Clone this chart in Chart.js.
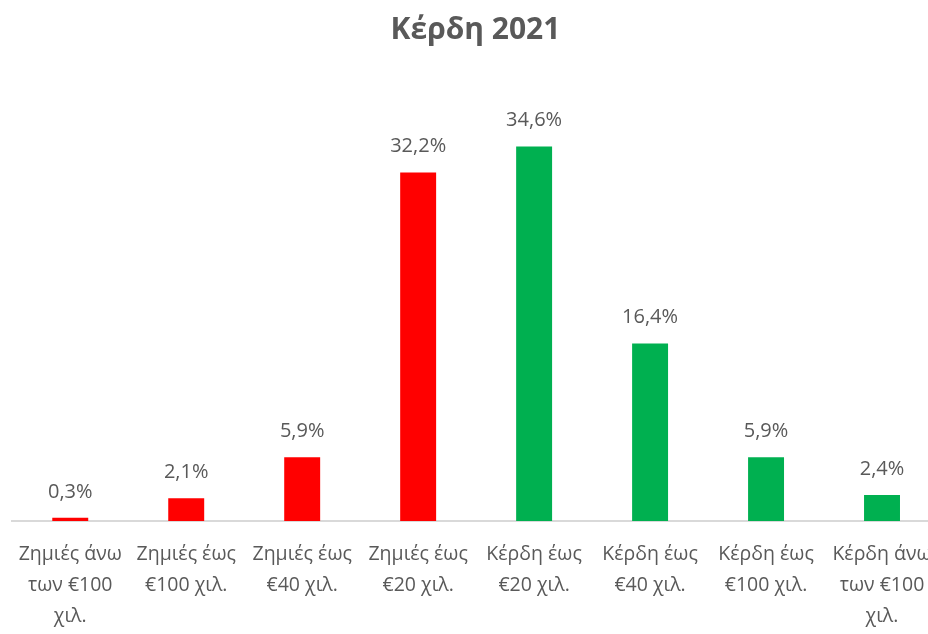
<!DOCTYPE html>
<html>
<head>
<meta charset="utf-8">
<script src="https://cdn.jsdelivr.net/npm/chart.js@4.4.1/dist/chart.umd.min.js"></script>
<style>
  html, body { margin: 0; padding: 0; background: #fff; overflow: hidden; }
  #wrap { width: 952px; height: 652px; }
</style>
</head>
<body>
<div id="wrap"><canvas id="profitChart" width="952" height="652"></canvas></div>
<script>
    const categories = [
        ['Ζημιές άνω', 'των €100', 'χιλ.'],
        ['Ζημιές έως', '€100 χιλ.'],
        ['Ζημιές έως', '€40 χιλ.'],
        ['Ζημιές έως', '€20 χιλ.'],
        ['Κέρδη έως', '€20 χιλ.'],
        ['Κέρδη έως', '€40 χιλ.'],
        ['Κέρδη έως', '€100 χιλ.'],
        ['Κέρδη άνω', 'των €100', 'χιλ.']
    ];
    const shares = [0.3, 2.1, 5.9, 32.2, 34.6, 16.4, 5.9, 2.4];
    const barColors = ['#FF0000', '#FF0000', '#FF0000', '#FF0000', '#00B050', '#00B050', '#00B050', '#00B050'];

    const fontFamily = '"Open Sans", "Noto Sans", sans-serif';
    const textGrey = '#595959';

    // value labels above bars
    const valueLabels = {
        id: 'valueLabels',
        afterDatasetsDraw(chart) {
            const ctx = chart.ctx;
            const meta = chart.getDatasetMeta(0);
            ctx.save();
            ctx.font = '20px ' + fontFamily;
            ctx.fillStyle = textGrey;
            ctx.textAlign = 'center';
            ctx.textBaseline = 'alphabetic';
            meta.data.forEach((bar, i) => {
                const txt = shares[i].toFixed(1).replace('.', ',') + '%';
                ctx.fillText(txt, bar.x, bar.y - 20);
            });
            ctx.restore();
        }
    };

    new Chart(document.getElementById('profitChart'), {
        type: 'bar',
        data: {
            labels: categories,
            datasets: [{
                data: shares,
                backgroundColor: barColors,
                barPercentage: 0.31,
                categoryPercentage: 1
            }]
        },
        options: {
            responsive: false,
            animation: false,
            layout: { padding: { left: 11, right: 12, top: 0, bottom: 2 } },
            plugins: {
                legend: { display: false },
                tooltip: { enabled: false },
                title: {
                    display: true,
                    text: 'Κέρδη 2021',
                    color: textGrey,
                    font: { family: fontFamily, size: 30, weight: 'bold' },
                    padding: { top: 12, bottom: 40 }
                }
            },
            scales: {
                x: {
                    grid: { display: false, drawTicks: false },
                    border: { display: true, color: '#D9D9D9', width: 2 },
                    ticks: {
                        color: textGrey,
                        font: { family: fontFamily, size: 19.5, lineHeight: '31px' },
                        padding: 18,
                        maxRotation: 0,
                        autoSkip: false
                    }
                },
                y: {
                    display: false,
                    min: 0,
                    max: 40
                }
            }
        },
        plugins: [valueLabels]
    });
</script>
</body>
</html>
